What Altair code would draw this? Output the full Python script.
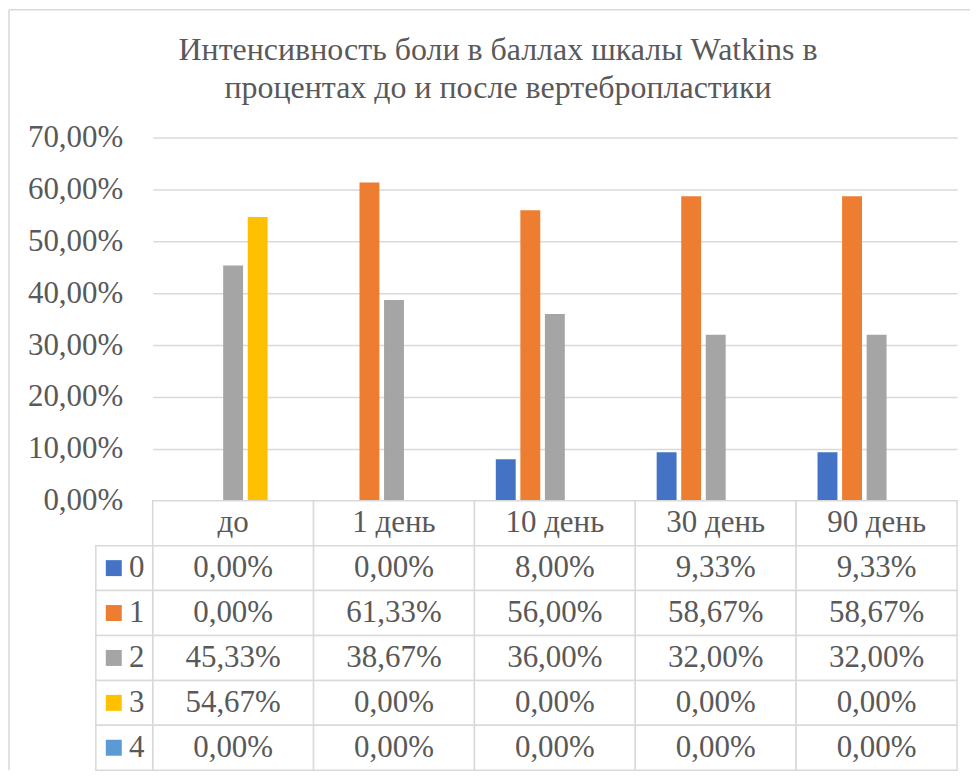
import altair as alt
import pandas as pd

categories = ["до", "1 день", "10 день", "30 день", "90 день"]
series = ["0", "1", "2", "3", "4"]
s0 = [0.00, 0.00, 8.00, 9.33, 9.33]
s1 = [0.00, 61.33, 56.00, 58.67, 58.67]
s2 = [45.33, 38.67, 36.00, 32.00, 32.00]
s3 = [54.67, 0.00, 0.00, 0.00, 0.00]
s4 = [0.00, 0.00, 0.00, 0.00, 0.00]
colors = ["#4472C4", "#ED7D31", "#A5A5A5", "#FFC000", "#5B9BD5"]
y_ticks = [0, 10, 20, 30, 40, 50, 60, 70]
title_lines = ["Интенсивность боли в баллах шкалы Watkins в",
               "процентах до и после вертебропластики"]

FONT = "Times New Roman, Liberation Serif, serif"
TXT = "#595959"
GRID = "#D9D9D9"
FS = 31

rows = []
for s, vals in zip(series, [s0, s1, s2, s3, s4]):
    for c, v in zip(categories, vals):
        rows.append({"category": c, "series": s, "value": v,
                     "label": f"{v:.2f}%".replace(".", ",")})
df = pd.DataFrame(rows)

row_domain = ["h"] + series
table_rows = [{"category": c, "row": "h", "text": c} for c in categories]
table_rows += [{"category": r["category"], "row": r["series"], "text": r["label"]} for r in rows]
tdf = pd.DataFrame(table_rows)
left_df = pd.DataFrame({"row": series})
one = pd.DataFrame({"t": ["\n".join(title_lines)]})

xscale = alt.Scale(domain=categories, paddingInner=0, paddingOuter=0)
yrow = alt.Y("row:N", scale=alt.Scale(domain=row_domain, paddingInner=0, paddingOuter=0), axis=None)

bars = alt.Chart(df).mark_bar().encode(
    x=alt.X("category:N", scale=xscale, axis=None, sort=categories),
    xOffset=alt.XOffset("series:N", scale=alt.Scale(domain=series, paddingInner=0.19, paddingOuter=0.87)),
    y=alt.Y("value:Q", scale=alt.Scale(domain=[0, 70], nice=False),
            axis=alt.Axis(values=y_ticks, title=None, domain=False, ticks=False,
                          labelExpr="replace(format(datum.value, '.2f'), '.', ',') + '%'",
                          labelFont=FONT, labelFontSize=FS, labelColor=TXT, labelPadding=30,
                          gridColor=GRID, gridWidth=1.5)),
    color=alt.Color("series:N", scale=alt.Scale(domain=series, range=colors), legend=None),
)
title_text = alt.Chart(one).mark_text(
    font=FONT, fontSize=32, color=TXT, lineBreak="\n", lineHeight=38,
    align="center", baseline="alphabetic",
).encode(x=alt.value(346), y=alt.value(-78), text="t:N")
border_top = alt.Chart(one).mark_rule(color=GRID, strokeWidth=1.5).encode(
    x=alt.value(-144), x2=alt.value(819), y=alt.value(-128))
border_left = alt.Chart(one).mark_rule(color=GRID, strokeWidth=1.5).encode(
    x=alt.value(-144), y=alt.value(-128), y2=alt.value(634))
top = alt.layer(border_top, border_left, bars, title_text).properties(width=806, height=364)

cells = alt.Chart(tdf).mark_rect(fill="white", stroke=GRID, strokeWidth=1.5).encode(
    x=alt.X("category:N", scale=xscale, axis=None, sort=categories),
    y=yrow,
)
texts = alt.Chart(tdf).mark_text(font=FONT, fontSize=FS, color=TXT).encode(
    x=alt.X("category:N", scale=xscale, axis=None, sort=categories),
    y=yrow,
    text="text:N",
)
left_cells = alt.Chart(left_df).mark_rect(fill="white", stroke=GRID, strokeWidth=1.5).encode(
    x=alt.value(-57), x2=alt.value(0), y=yrow,
)
swatches = alt.Chart(left_df).mark_square(size=256, opacity=1).encode(
    x=alt.value(-39), y=yrow,
    color=alt.Color("row:N", scale=alt.Scale(domain=series, range=colors), legend=None),
)
row_labels = alt.Chart(left_df).mark_text(font=FONT, fontSize=FS, color=TXT).encode(
    x=alt.value(-16), y=yrow, text="row:N",
)
table = alt.layer(cells, left_cells, swatches, row_labels, texts).properties(width=806, height=270)

chart = alt.vconcat(top, table, spacing=0, bounds="flush").properties(
    padding={"left": 0, "top": 0, "right": 0, "bottom": 0},
).configure_view(stroke=None).configure_concat(spacing=0)

chart.save("out.html", embed_options={"renderer": "svg", "actions": False})
